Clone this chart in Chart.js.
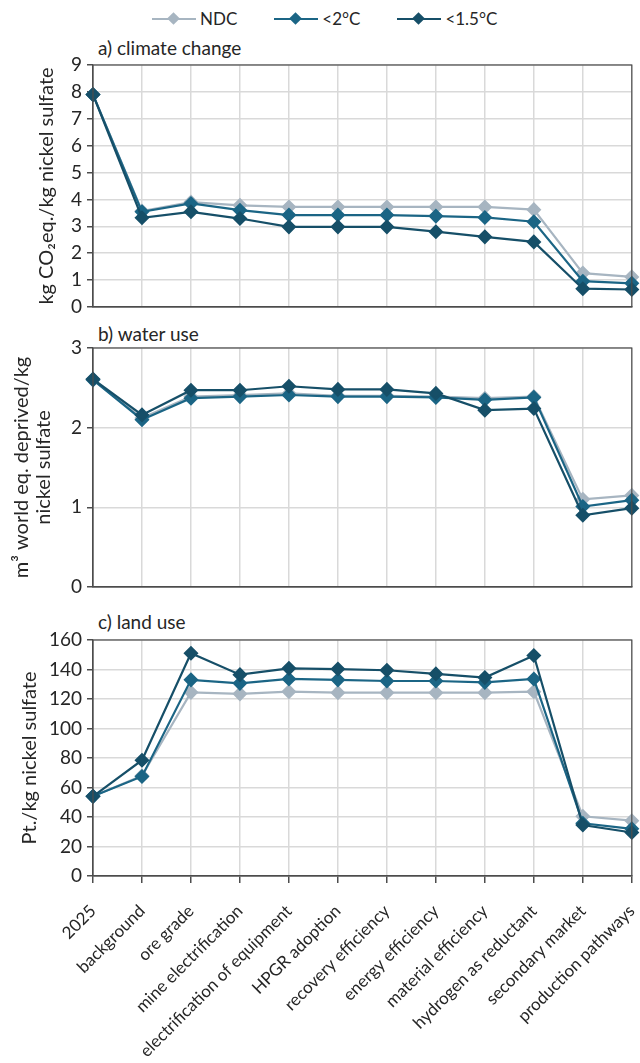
<!DOCTYPE html>
<html>
<head>
<meta charset="utf-8">
<script src="https://cdn.jsdelivr.net/npm/chart.js@4.4.1/dist/chart.umd.min.js"></script>
<style>
  html, body { margin: 0; padding: 0; background: #fff; overflow: hidden; }
  #wrap { position: relative; width: 640px; height: 1063px; overflow: hidden; font-family: Lato, "Open Sans", sans-serif; color: #262626; }
  canvas { position: absolute; left: 0; }
  .ptitle { position: absolute; left: 98px; font-size: 19px; line-height: 22px; }
  #legend { position: absolute; top: 8px; left: 152px; font-size: 17px; line-height: 22px; display: flex; }
  .item { display: flex; align-items: center; margin-right: 37px; }
  .sym { position: relative; width: 44px; height: 22px; margin-right: 4px; }
  .sym .ln { position: absolute; left: 0; right: 0; top: 10px; height: 2px; }
  .sym .dm { position: absolute; left: 17px; top: 6px; width: 9px; height: 9px; transform: rotate(45deg); }
</style>
</head>
<body>
<div id="wrap">
  <div id="legend"></div>
  <div class="ptitle" style="top:37px">a) climate change</div>
  <div class="ptitle" style="top:323px">b) water use</div>
  <div class="ptitle" style="top:611px">c) land use</div>
  <canvas id="cA" width="640" height="269" style="top:50px"></canvas>
  <canvas id="cB" width="640" height="266" style="top:333px"></canvas>
  <canvas id="cC" width="640" height="438" style="top:625px"></canvas>
</div>
<script>
const $ = (id) => document.getElementById(id);

const categories = [
  "2025", "background", "ore grade", "mine electrification",
  "electrification of equipment", "HPGR adoption", "recovery efficiency",
  "energy efficiency", "material efficiency", "hydrogen as reductant",
  "secondary market", "production pathways",
];
const seriesNames = ["NDC", "<2°C", "<1.5°C"];
const seriesColors = ["#a7b5c1", "#1b6585", "#164f68"];

// a) climate change, kg CO2 eq./kg nickel sulfate
const ccNDC = [7.9, 3.57, 3.9, 3.78, 3.72, 3.72, 3.72, 3.72, 3.72, 3.62, 1.26, 1.12];
const cc2 = [7.9, 3.54, 3.85, 3.6, 3.42, 3.42, 3.42, 3.38, 3.33, 3.17, 0.96, 0.88];
const cc15 = [7.9, 3.32, 3.54, 3.29, 2.98, 2.98, 2.98, 2.8, 2.61, 2.42, 0.68, 0.65];

// b) water use, m3 world eq. deprived/kg nickel sulfate
const wuNDC = [2.6, 2.12, 2.39, 2.41, 2.43, 2.4, 2.4, 2.39, 2.37, 2.39, 1.1, 1.15];
const wu2 = [2.6, 2.1, 2.37, 2.39, 2.41, 2.39, 2.39, 2.38, 2.35, 2.38, 1.01, 1.09];
const wu15 = [2.61, 2.16, 2.47, 2.47, 2.52, 2.48, 2.48, 2.43, 2.22, 2.24, 0.9, 0.99];

// c) land use, Pt./kg nickel sulfate
const luNDC = [54, 68, 124.5, 123.5, 125, 124.3, 124.3, 124.3, 124.3, 125, 40.5, 37.5];
const lu2 = [54, 67.5, 133, 130.6, 133.6, 133, 132.2, 132.2, 131.3, 133.6, 35.7, 32];
const lu15 = [54, 78.5, 151, 136.5, 140.8, 140.3, 139.5, 137, 134.5, 149.5, 34.6, 29.5];

const FONT = "Lato, 'Open Sans', sans-serif";
const TXT = "#262626";

// legend
seriesNames.forEach((name, i) => {
  const it = document.createElement("div");
  it.className = "item";
  it.innerHTML = `<span class="sym"><span class="ln" style="background:${seriesColors[i]}"></span><span class="dm" style="background:${seriesColors[i]}"></span></span><span></span>`;
  it.lastChild.textContent = name;
  $("legend").appendChild(it);
});

const boxPlugin = {
  id: "box",
  afterDraw(chart) {
    const { ctx, chartArea: a } = chart;
    ctx.save();
    ctx.strokeStyle = "#4d4d4d";
    ctx.lineWidth = 1.2;
    ctx.strokeRect(a.left, a.top, a.right - a.left, a.bottom - a.top);
    ctx.restore();
  },
};

function makeChart(id, data, yMax, step, yTitle, titlePad, showX) {
  const datasets = data.map((vals, i) => ({
    label: seriesNames[i],
    data: vals,
    borderColor: seriesColors[i],
    backgroundColor: seriesColors[i],
    borderWidth: 2.2,
    pointStyle: "rectRot",
    pointRadius: 6,
    pointHoverRadius: 6,
    tension: 0,
    clip: false,
    order: 3 - i,
  }));
  return new Chart($(id), {
    type: "line",
    data: { labels: categories, datasets },
    options: {
      responsive: false,
      animation: false,
      layout: { padding: { top: 15, right: 4, bottom: showX ? 0 : 12, left: 0 } },
      plugins: { legend: { display: false }, tooltip: { enabled: false } },
      scales: {
        x: {
          offset: false,
          grid: { color: "#d9d9d9", lineWidth: 1.5, tickLength: 7, drawTicks: showX, tickColor: "#4d4d4d" },
          border: { color: "#4d4d4d", width: 1.2 },
          ticks: {
            display: showX,
            autoSkip: false,
            maxRotation: 45,
            minRotation: 45,
            padding: 18,
            color: TXT,
            font: { family: FONT, size: 17 },
          },
          afterFit: (s) => {
            s.height = showX ? 187 : 0;
            s.paddingLeft = 0;
            s.paddingRight = 0;
          },
        },
        y: {
          min: 0,
          max: yMax,
          ticks: { stepSize: step, padding: 5, color: TXT, font: { family: FONT, size: 19 } },
          grid: { color: "#d9d9d9", lineWidth: 1.5, tickLength: 6, tickColor: "#4d4d4d" },
          border: { color: "#4d4d4d", width: 1.2 },
          title: {
            display: true,
            text: yTitle,
            color: TXT,
            font: { family: FONT, size: 20, lineHeight: 1.1 },
            padding: { top: titlePad, bottom: 0 },
          },
          afterFit: (s) => {
            s.width = 93;
            s.paddingTop = 0;
            s.paddingBottom = 0;
          },
        },
      },
    },
    plugins: [boxPlugin],
  });
}

makeChart("cA", [ccNDC, cc2, cc15], 9, 1, "kg CO₂eq./kg nickel sulfate", 36, false);
makeChart("cB", [wuNDC, wu2, wu15], 3, 1, ["m³ world eq. deprived/kg", "nickel sulfate"], 11, false);
makeChart("cC", [luNDC, lu2, lu15], 160, 20, "Pt./kg nickel sulfate", 19, true);
</script>
</body>
</html>
